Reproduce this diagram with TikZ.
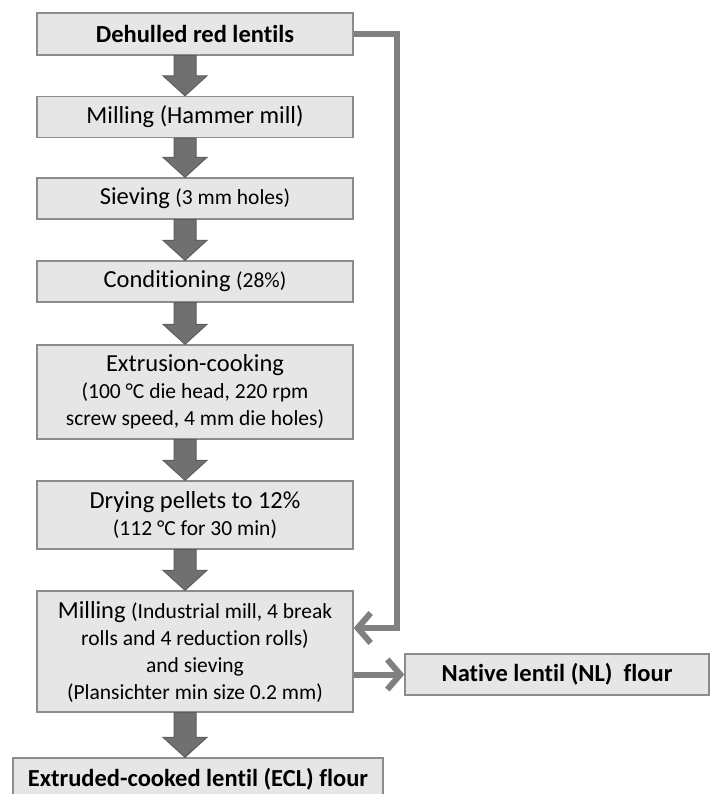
\documentclass[tikz,border=0pt]{standalone}
\usepackage{fontspec}
\setmainfont[Ligatures=NoCommon]{Carlito}
\usetikzlibrary{calc}
\usetikzlibrary{arrows.meta}
\definecolor{boxfill}{HTML}{E6E6E6}
\definecolor{boxline}{HTML}{8C8C8C}
\definecolor{arrfill}{HTML}{707070}
\definecolor{arrline}{HTML}{5E5E5E}
\definecolor{sideline}{HTML}{808080}
\newcommand{\note}[1]{{\fontsize{21.5}{27}\selectfont #1}}
\newcommand{\blockarrow}[2]{ \draw[blockarr] ($(#1.south)+(-21,0)$) -- ($(#1.south |- #2.north)+(-21,-20)$) -- ($(#1.south |- #2.north)+(-32,-20)$) -- ($(#1.south |- #2.north)+(-10,0)$) -- ($(#1.south |- #2.north)+(12,-20)$) -- ($(#1.south |- #2.north)+(1,-20)$) -- ($(#1.south)+(1,0)$) -- cycle;}
\tikzset{
  stepbox/.style={draw=boxline, fill=boxfill, line width=1.4pt, minimum width=316pt, align=center, inner sep=0pt, font=\fontsize{24.5}{27}\selectfont},
  blockarr/.style={fill=arrfill, draw=arrline, line width=1pt, line join=miter},
  sidearr/.style={draw=sideline, line width=6pt, -{Straight Barb[length=13pt,width=30pt]}}
}

\begin{document}
\begin{tikzpicture}[x=1pt,y=-1pt]
        \useasboundingbox (0,0) rectangle (710,794);
        \clip (0,0) rectangle (710,794);
        % main column
        \node[stepbox, minimum height=42pt, font=\fontsize{24.5}{27}\selectfont\bfseries] (dehull) at (195,34) {Dehulled red lentils};
        \node[stepbox, minimum height=41pt] (hammer) at (195,117) {Milling (Hammer mill)};
        \node[stepbox, minimum height=41pt] (sieve) at (195,198.5) {Sieving \note{(3 mm holes)}};
        \node[stepbox, minimum height=41pt] (cond) at (195,281.5) {Conditioning \note{(28\%)}};
        \node[stepbox, minimum height=94pt] (extru) at (195,392) {Extrusion-cooking\\ \note{(100 °C die head, 220 rpm}\\ \note{screw speed, 4 mm die holes)}};
        \node[stepbox, minimum height=68pt] (dry) at (195,515) {Drying pellets to 12\%\\ \note{(112 °C for 30 min)}};
        \node[stepbox, minimum height=121pt] (millsieve) at (195,651.5) {Milling \note{(Industrial mill, 4 break}\\ \note{rolls and 4 reduction rolls)}\\ \note{and sieving}\\ \note{(Plansichter min size 0.2 mm)}};
        % products
        \node[stepbox, minimum width=370pt, minimum height=42pt, font=\fontsize{24.5}{27}\selectfont\bfseries] (ecl) at (198,779) {Extruded-cooked lentil (ECL) flour};
        \node[stepbox, minimum width=304pt, minimum height=41pt, font=\fontsize{24.5}{27}\selectfont\bfseries] (native) at (557,674.5) {Native lentil (NL)\ \ flour};
        % down arrows
        \blockarrow{dehull}{hammer}
        \blockarrow{hammer}{sieve}
        \blockarrow{sieve}{cond}
        \blockarrow{cond}{extru}
        \blockarrow{extru}{dry}
        \blockarrow{dry}{millsieve}
        \blockarrow{millsieve}{ecl}
        % side route
        \coordinate (bend) at (397,628);
        \draw[sidearr] (dehull.east) -| (bend) -- (bend -| millsieve.east);
        \draw[sidearr] (millsieve.east |- native.west) -- (native.west);
    \end{tikzpicture}
\end{document}
